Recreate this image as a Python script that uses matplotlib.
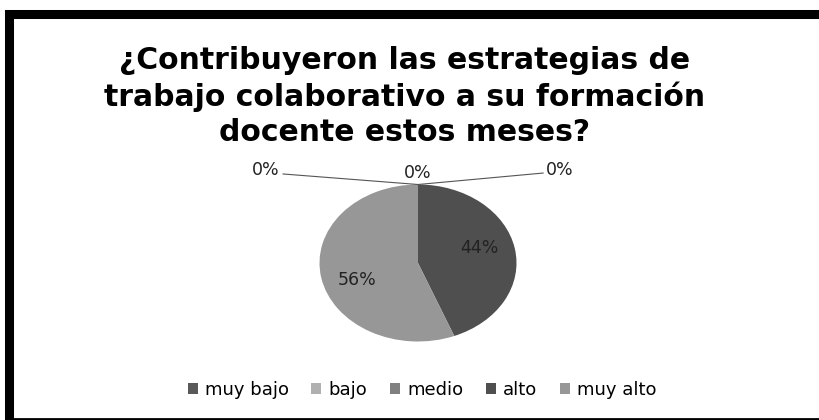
import numpy as np
import matplotlib.pyplot as plt
from matplotlib.patches import Patch, Rectangle

categorias = ["muy bajo", "bajo", "medio", "alto", "muy alto"]
porcentajes = [0, 0, 0, 44, 56]
colores = ["#595959", "#b0b0b0", "#808080", "#4f4f4f", "#979797"]

titulo = "¿Contribuyeron las estrategias de\ntrabajo colaborativo a su formación\ndocente estos meses?"

W, H = 819, 420
fig = plt.figure(figsize=(W / 100, H / 100), dpi=100)
fig.patch.set_facecolor("white")

# marco negro grueso (solo arriba e izquierda se ven gruesos)
fig.patches.append(Rectangle((9 / W, -0.05), 1.2, 1 - 14 / H + 0.05,
                             transform=fig.transFigure, fill=False,
                             edgecolor="black", linewidth=6.5, zorder=10))
fig.add_artist(plt.Line2D([9 / W, 1], [1.5 / H, 1.5 / H], transform=fig.transFigure,
                          color="black", linewidth=2))

fig.text(405 / W, 1 - 96.5 / H, titulo, ha="center", va="center",
         fontsize=21.5, fontweight="bold", family="DejaVu Sans", linespacing=1.25)

# pastel (elíptico)
cx, cy, rx, ry = 418, 263, 98.5, 78.5
ax = fig.add_axes([(cx - rx) / W, 1 - (cy + ry) / H, 2 * rx / W, 2 * ry / H])
wedges, _ = ax.pie(porcentajes, colors=colores, startangle=90, counterclock=False,
                   radius=1, wedgeprops=dict(linewidth=0))
ax.set_aspect("auto")
ax.set_xlim(-1, 1)
ax.set_ylim(-1, 1)
ax.axis("off")

etiqueta = dict(fontsize=12.5, family="DejaVu Sans", color="#222222")

# etiquetas de las porciones con valor
ajuste_y = {"alto": 0.07, "muy alto": -0.10}
acum = 0
for cat, v in zip(categorias, porcentajes):
    if v > 0:
        ang = np.deg2rad(90 - (acum + v / 2) * 3.6)
        ax.text(0.63 * np.cos(ang), 0.63 * np.sin(ang) + ajuste_y[cat], f"{v}%",
                ha="center", va="center", **etiqueta)
    acum += v

# etiquetas de las porciones en cero, con líneas guía
pos_cero = [(-1.55, 1.185), (0.0, 1.146), (1.44, 1.185)]
fin_linea = [(-1.37, 1.134), None, (1.27, 1.146)]
ceros = [v for v in porcentajes if v == 0]
for (x, y), fin, v in zip(pos_cero, fin_linea, ceros):
    ax.text(x, y, f"{v}%", ha="center", va="center", clip_on=False, **etiqueta)
    if fin is not None:
        ax.plot([0, fin[0]], [1.0, fin[1]], color="#555555", linewidth=0.8,
                clip_on=False)

handles = [Patch(facecolor=c, edgecolor="none") for c in colores]
fig.legend(handles, categorias, loc="center", bbox_to_anchor=(422 / W, 1 - 390 / H),
           ncol=5, frameon=False, prop=dict(family="DejaVu Sans", size=13),
           handlelength=0.55, handleheight=0.55, handletextpad=0.4, columnspacing=1.25)

fig.savefig("out.png", dpi=100)
